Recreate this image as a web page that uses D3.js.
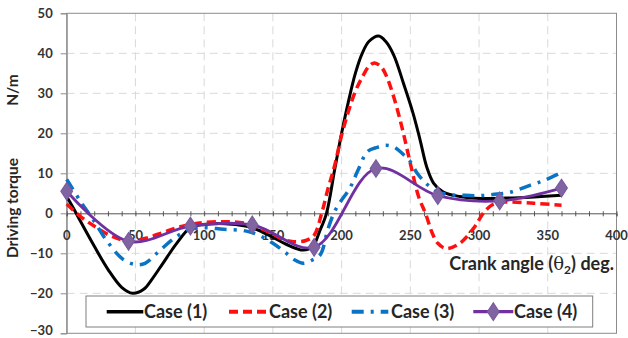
<!DOCTYPE html>
<html><head><meta charset="utf-8">
<script src="https://cdn.jsdelivr.net/npm/d3@7"></script>
<style>body{margin:0;background:#fff;}svg{display:block;font-family:Lato,"Open Sans",sans-serif;}</style>
</head><body>
<svg id="c" width="628" height="338"></svg>
<script>
const xTicks = [0,50,100,150,200,250,300,350,400];
const yTicks = [-30,-20,-10,0,10,20,30,40,50];
const seriesNames = ["Case (1)","Case (2)","Case (3)","Case (4)"];

const case1 = [[0,4.2],[5,1.2],[10,-2],[20,-8.2],[30,-14],[40,-18.5],[48,-20],[56,-19],[62,-16.5],[70,-12.5],[80,-7.5],[90,-3.6],[100,-2.8],[115,-2.6],[130,-3.2],[140,-4.3],[150,-6],[160,-7.8],[172,-9.2],[179,-8.3],[184,-4.5],[189,0],[195,11],[200,20],[205,28],[210,35],[215,40],[220,43],[227,44.3],[232,43],[238,39.5],[245,32.5],[252,25],[257,18.5],[262,11.5],[267,7.5],[274,5.3],[286,4.2],[300,3.7],[320,3.8],[340,4.1],[360,4.5]];
const case2 = [[0,2.3],[10,-0.8],[20,-3.2],[30,-5.3],[40,-6.6],[48,-6.9],[58,-6.2],[70,-4.8],[80,-3.6],[90,-2.8],[100,-2.3],[115,-2.1],[130,-2.5],[140,-3.6],[150,-5.2],[158,-6.6],[165,-7.1],[174,-6.8],[180,-5.5],[185.5,0],[190,6],[195,12],[200,19.5],[205,25.5],[210,30.5],[215,34],[220,36.8],[224,37.6],[229,36.5],[233,34],[238,29],[242.6,23.3],[246,18.5],[250,12.5],[256,4.2],[261,0],[266,-5],[270,-7.5],[276,-8.8],[286,-7.5],[297,-3.3],[303,0],[310,2.2],[318,2.8],[340,2.5],[360,2]];
const case3 = [[0,8.5],[10,3],[20,-2],[29,-6.8],[41,-11.5],[50,-12.8],[57,-12.5],[68,-9.2],[80,-5.8],[90,-4],[100,-3.6],[114,-4],[130,-4.4],[140,-5.5],[150,-7.5],[158,-9.5],[166,-11.7],[172,-12.5],[178,-11.8],[184.4,-10.4],[190,-4],[195,0.5],[199,2.8],[206,6.3],[212,10.8],[219,15.5],[226,16.5],[232,17],[238,16.6],[244,15],[250,12.9],[255,10],[260,8],[264,6.7],[270,5.3],[280,4.6],[290,4.5],[300,4.4],[310,4.7],[322,5.2],[337,7],[348,8.3],[360,10.2]];
const case4 = [[0,5.5],[45,-7],[90,-3.2],[135,-2.9],[180,-8.5],[225,11.2],[270,4.4],[315,3.1],[360,6.3]];

const svg = d3.select("#c");
const L=66.7, R=616.5, T=13.3, B=333.3;
const x = d3.scaleLinear().domain([0,400]).range([L,R]);
const y = d3.scaleLinear().domain([-30,50]).range([B,T]);

// gridlines
const g = svg.append("g");
g.selectAll(".gy").data(yTicks.filter(v=>v>-30&&v<50&&v!==0)).enter().append("line")
 .attr("x1",L).attr("x2",R).attr("y1",d=>y(d)).attr("y2",d=>y(d))
 .attr("stroke","#d9d9d9").attr("stroke-width",1).attr("stroke-dasharray","8,5");
g.selectAll(".gx").data(xTicks.filter(v=>v>0&&v<400)).enter().append("line")
 .attr("y1",T).attr("y2",B).attr("x1",d=>x(d)).attr("x2",d=>x(d))
 .attr("stroke","#d9d9d9").attr("stroke-width",1).attr("stroke-dasharray","8,5");
// border
svg.append("rect").attr("x",L).attr("y",T).attr("width",R-L).attr("height",B-T)
 .attr("fill","none").attr("stroke","#8c8c8c").attr("stroke-width",1);

// y axis
const ya = svg.append("g").attr("transform",`translate(${L},0)`)
 .call(d3.axisLeft(y).tickValues(yTicks).tickSize(6).tickPadding(8));
ya.select(".domain").attr("stroke","#8c8c8c");
ya.selectAll(".tick line").attr("stroke","#8c8c8c");
ya.selectAll("text").attr("font-size",13).attr("font-weight","bold").attr("fill","#333").attr("font-family","Lato");
ya.selectAll(".tick").filter(d=>d===-30).select("text").attr("dy","0.1em");

// x axis at 0
const xa = svg.append("g").attr("transform",`translate(0,${y(0)})`)
 .call(d3.axisBottom(x).tickValues(d3.range(0,401,10)).tickSize(3).tickFormat(""));
xa.select(".domain").attr("stroke","#555");
xa.selectAll(".tick line").attr("stroke","#555").attr("y1",-2);
svg.append("g").selectAll("text").data(xTicks).enter().append("text")
 .attr("x",d=>x(d)).attr("y",y(0)+27).attr("text-anchor","middle")
 .attr("font-size",13).attr("font-weight","bold").attr("fill","#333").text(d=>d);

// axis titles
const xt = svg.append("text").attr("x",614).attr("y",270).attr("text-anchor","end")
 .attr("font-size",18).attr("font-weight","bold").attr("fill","#262626");
xt.append("tspan").text("Crank angle (");
xt.append("tspan").text("θ").attr("font-family","DejaVu Serif").attr("font-weight","normal");
xt.append("tspan").text("2").attr("font-size",12).attr("dy",4);
xt.append("tspan").text(") deg.").attr("dy",-4);

svg.append("text").attr("transform","translate(18,208) rotate(-90)").attr("text-anchor","middle")
 .attr("font-size",15.5).attr("font-weight","bold").attr("fill","#262626").text("Driving torque");
svg.append("text").attr("transform","translate(18,90) rotate(-90)").attr("text-anchor","middle")
 .attr("font-size",15.5).attr("font-weight","bold").attr("fill","#262626").text("N/m");

// lines
const cr = d3.line().x(d=>x(d[0])).y(d=>y(d[1])).curve(d3.curveCatmullRom.alpha(0.5));
const styles = [
 {stroke:"#000000", w:3, dash:null},
 {stroke:"#ff1010", w:3.5, dash:"9,5"},
 {stroke:"#0a73c4", w:3.5, dash:"12,7,3,7"},
 {stroke:"#7030a0", w:2.8, dash:null}
];
const data=[case1,case2,case3,case4];
const pl = svg.append("g");
data.forEach((d,i)=>{
 pl.append("path").datum(d).attr("d",cr).attr("fill","none")
  .attr("stroke",styles[i].stroke).attr("stroke-width",styles[i].w)
  .attr("stroke-dasharray",styles[i].dash).attr("stroke-linejoin","round");
});
const diamond = d3.symbol().type(d3.symbolDiamond).size(90);
pl.selectAll(".m").data(case4).enter().append("path").attr("d",diamond)
 .attr("transform",d=>`translate(${x(d[0])},${y(d[1])}) scale(1.15,1)`)
 .attr("fill","#8064a2").attr("stroke","#7a5a9e").attr("stroke-width",1);

// legend
const lg = svg.append("g");
lg.append("rect").attr("x",86).attr("y",296).attr("width",506.7).attr("height",31)
 .attr("fill","#fff").attr("stroke","#7f7f7f").attr("stroke-width",1);
const legX=[[106.7,143.3,144],[229,266.7,269],[351.7,388.3,391],[473.3,513.3,514]];
const ly=311.7;
legX.forEach((p,i)=>{
 lg.append("line").attr("x1",p[0]).attr("x2",p[1]).attr("y1",ly).attr("y2",ly)
  .attr("stroke",styles[i].stroke).attr("stroke-width",styles[i].w+0.5)
  .attr("stroke-dasharray",styles[i].dash);
 if(i===3){
  lg.append("path").attr("d",diamond).attr("transform",`translate(${(p[0]+p[1])/2},${ly}) scale(1.15,1)`)
   .attr("fill","#8064a2").attr("stroke","#7a5a9e");
 }
 lg.append("text").attr("x",p[2]).attr("y",ly+6.5).attr("font-size",18).attr("font-weight","bold")
  .attr("fill","#262626").text(seriesNames[i]);
});
</script>
</body></html>
